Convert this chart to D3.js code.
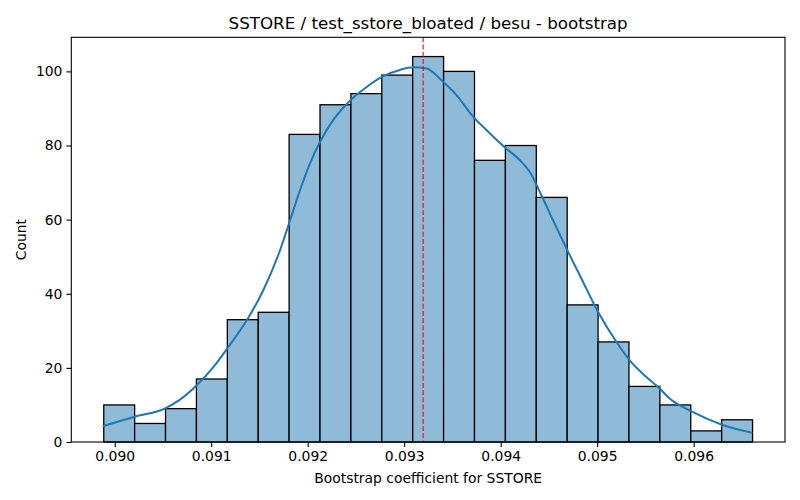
<!DOCTYPE html>
<html>
<head>
<meta charset="utf-8">
<script src="https://cdn.jsdelivr.net/npm/d3@7"></script>
<style>
  body { margin: 0; background: #fff; }
  svg { display: block; font-family: "DejaVu Sans", sans-serif; }
</style>
</head>
<body>
<div id="chart"></div>
<script>
// histogram: 21 bins between these edges
const binStart = 0.0898862;
const binEnd = 0.0966104;
const counts = [10, 5, 9, 17, 33, 35, 83, 91, 94, 99, 104, 100, 76, 80, 66, 37, 27, 15, 10, 3, 6];

// kde curve (x, count)
const kdeX = [0.089876, 0.090207, 0.090524, 0.090680, 0.090852, 0.091024, 0.091179, 0.091370,
              0.091541, 0.091714, 0.091818, 0.091921, 0.092024, 0.092128, 0.092265, 0.092438,
              0.092611, 0.092783, 0.092955, 0.093093, 0.093232, 0.093403, 0.093542, 0.093714,
              0.093852, 0.094042, 0.094197, 0.094300, 0.094438, 0.094541, 0.094680, 0.094835,
              0.095007, 0.095197, 0.095335, 0.095507, 0.095645, 0.095748, 0.095973, 0.096300, 0.096610];
const kdeY = [4.3, 6.8, 9.1, 11.5, 15.4, 20.3, 25.7, 32.9,
              41.0, 51.8, 59.9, 68.0, 75.2, 81.0, 86.9, 92.1,
              95.8, 98.7, 100.4, 101.1, 100.8, 97.2, 93.6, 87.8,
              84.2, 79.5, 76.1, 72.9, 65.7, 59.9, 52.3, 44.2,
              35.2, 27.1, 22.1, 17.6, 14.5, 11.8, 8.3, 4.6, 2.5];

const meanValue = 0.0931965;
const xTicks = [0.090, 0.091, 0.092, 0.093, 0.094, 0.095, 0.096];
const yTicks = [0, 20, 40, 60, 80, 100];

const title = "SSTORE / test_sstore_bloated / besu - bootstrap";
const xLabel = "Bootstrap coefficient for SSTORE";
const yLabel = "Count";

const W = 800, H = 500;
const margin = { top: 37.3, right: 15, bottom: 58, left: 71.3 };
const width = W - margin.left - margin.right;
const height = H - margin.top - margin.bottom;

const binWidth = (binEnd - binStart) / counts.length;
const bins = counts.map((c, i) => ({ x0: binStart + i * binWidth, x1: binStart + (i + 1) * binWidth, n: c }));

const pad = (binEnd - binStart) * 0.05;
const x = d3.scaleLinear().domain([binStart - pad, binEnd + pad]).range([0, width]);
const y = d3.scaleLinear().domain([0, d3.max(counts) * 1.05]).range([height, 0]);

const svg = d3.select("#chart").append("svg")
    .attr("width", W)
    .attr("height", H);

svg.append("text")
    .attr("x", margin.left + width / 2)
    .attr("y", 29)
    .attr("text-anchor", "middle")
    .style("font-size", "16.7px")
    .text(title);

const chart = svg.append("g")
    .attr("transform", "translate(" + margin.left + "," + margin.top + ")");

chart.selectAll("rect.bar")
    .data(bins)
    .enter().append("rect")
    .attr("class", "bar")
    .attr("x", d => x(d.x0))
    .attr("y", d => y(d.n))
    .attr("width", d => x(d.x1) - x(d.x0))
    .attr("height", d => y(0) - y(d.n))
    .style("fill", "#8fbbd9")
    .style("stroke", "#000")
    .style("stroke-width", 1.3);

const kde = d3.line()
    .x((d, i) => x(kdeX[i]))
    .y(d => y(d))
    .curve(d3.curveMonotoneX);

chart.append("path")
    .datum(kdeY)
    .attr("d", kde)
    .style("fill", "none")
    .style("stroke", "#1f77b4")
    .style("stroke-width", 2);

chart.append("line")
    .attr("x1", x(meanValue))
    .attr("x2", x(meanValue))
    .attr("y1", 0)
    .attr("y2", height)
    .style("stroke", "#f00")
    .style("stroke-width", 1.1)
    .style("stroke-dasharray", "5,2.2");

const xAxis = chart.append("g")
    .attr("transform", "translate(0," + height + ")")
    .call(d3.axisBottom(x).tickValues(xTicks).tickFormat(d3.format(".3f")).tickSize(4.9).tickPadding(4));

const yAxis = chart.append("g")
    .call(d3.axisLeft(y).tickValues(yTicks).tickFormat(d3.format("d")).tickSize(4.9).tickPadding(4));

[xAxis, yAxis].forEach(a => {
    a.select(".domain").remove();
    a.selectAll("line").style("stroke", "#000").style("stroke-width", 1.1);
    a.selectAll("text").style("font-family", "DejaVu Sans, sans-serif").style("font-size", "13.9px").style("fill", "#000");
});

// frame
chart.append("rect")
    .attr("width", width)
    .attr("height", height)
    .style("fill", "none")
    .style("stroke", "#000")
    .style("stroke-width", 1.1);

svg.append("text")
    .attr("x", margin.left + width / 2)
    .attr("y", 483)
    .attr("text-anchor", "middle")
    .style("font-size", "13.9px")
    .text(xLabel);

svg.append("text")
    .attr("transform", "translate(26," + (margin.top + height / 2) + ") rotate(-90)")
    .attr("text-anchor", "middle")
    .style("font-size", "13.9px")
    .text(yLabel);
</script>
</body>
</html>
